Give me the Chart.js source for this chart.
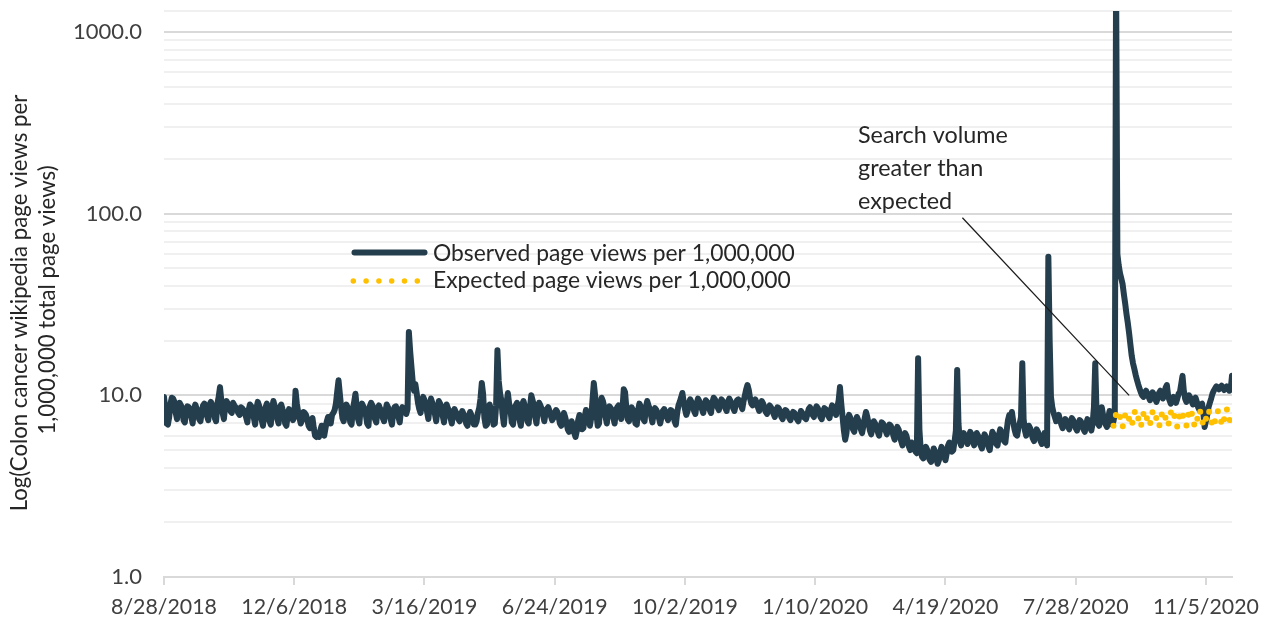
<!DOCTYPE html>
<html>
<head>
<meta charset="utf-8">
<script src="https://cdn.jsdelivr.net/npm/chart.js@4.4.1/dist/chart.umd.min.js"></script>
<style>
html,body{margin:0;padding:0;background:#fff;}
#wrap{width:1272px;height:625px;}
</style>
</head>
<body>
<div id="wrap"><canvas id="chart" width="1272" height="625"></canvas></div>
<script>
/* ---------- DATA ---------- */
// day 0 = 8/28/2018, one value per day
const tickDays = [0, 100, 200, 300, 400, 500, 600, 700, 800];
const tickLabels = ['8/28/2018','12/6/2018','3/16/2019','6/24/2019','10/2/2019','1/10/2020','4/19/2020','7/28/2020','11/5/2020'];
const lastDay = 820;

const yMajor = [1, 10, 100, 1000];
const yMajorLabels = ['1.0', '10.0', '100.0', '1000.0'];
const yMax = 1305;

const observed = [
  9.8, 8.4, 7.0, 6.9, 7.6, 9.0, 9.7, 9.6, 9.2, 8.0, 7.4, 8.6, 9.1, 8.8,
  8.5, 7.3, 7.1, 8.2, 8.7, 8.6, 8.3, 7.6, 7.0, 8.4, 8.9, 8.5, 8.0, 7.4,
  7.2, 8.1, 8.8, 9.0, 8.6, 7.7, 7.3, 8.9, 9.2, 8.8, 8.4, 7.5, 7.2, 9.0,
  9.8, 11.1, 9.4, 8.0, 7.4, 8.8, 9.3, 9.0, 8.9, 8.2, 8.0, 9.1, 8.8, 8.6,
  8.4, 8.0, 7.8, 8.6, 8.5, 8.3, 8.0, 7.6, 7.1, 8.3, 8.9, 8.7, 8.4, 7.5,
  6.9, 8.5, 9.2, 8.8, 8.2, 7.3, 6.8, 8.0, 8.6, 9.0, 8.1, 7.2, 6.9, 8.5,
  9.3, 8.7, 8.3, 7.4, 7.0, 8.6, 8.9, 8.4, 8.0, 7.0, 6.8, 7.8, 8.4, 8.2,
  7.9, 7.3, 7.6, 10.6, 9.0, 8.1, 7.5, 7.0, 7.3, 8.1, 8.0, 7.8, 7.4, 6.8,
  6.6, 7.2, 7.5, 6.6, 6.0, 5.9, 6.1, 5.9, 6.4, 6.8, 6.3, 6.0, 6.6, 7.2,
  7.6, 7.4, 7.0, 7.8, 8.0, 8.3, 9.0, 10.5, 12.1, 10.2, 8.6, 7.5, 7.2, 8.4,
  8.9, 8.6, 8.0, 7.1, 6.9, 8.4, 9.2, 10.2, 8.6, 7.4, 7.0, 8.5, 9.0, 8.7,
  8.4, 7.8, 7.0, 6.8, 8.7, 9.1, 8.8, 8.3, 7.4, 7.1, 8.5, 8.8, 8.4, 8.1,
  7.5, 7.2, 8.2, 8.9, 8.6, 8.2, 7.4, 6.9, 8.0, 8.6, 8.7, 8.3, 7.6, 7.1,
  8.3, 8.6, 8.4, 8.1, 7.9, 8.4, 22.3, 17.5, 14.3, 11.8, 10.6, 11.5, 10.3, 9.1,
  8.4, 8.0, 9.2, 9.8, 9.4, 8.9, 8.1, 7.4, 8.8, 9.6, 9.1, 8.6, 7.9, 7.2,
  8.4, 9.3, 9.0, 8.6, 7.7, 7.1, 8.3, 8.9, 8.5, 8.2, 7.5, 7.0, 8.0, 8.4,
  8.1, 7.9, 7.4, 7.2, 7.8, 8.2, 7.9, 7.6, 7.0, 6.8, 7.6, 8.1, 7.8, 7.3,
  6.9, 6.9, 7.2, 8.0, 8.5, 9.6, 11.7, 10.2, 7.5, 6.8, 6.9, 8.6, 8.9, 8.4,
  7.8, 6.9, 7.0, 8.8, 17.7, 12.0, 10.3, 9.4, 7.8, 6.9, 8.4, 9.0, 10.3, 9.0,
  8.4, 7.1, 6.9, 8.5, 8.8, 9.1, 8.2, 7.3, 6.8, 8.9, 9.3, 8.7, 8.0, 7.2,
  7.0, 8.6, 10.0, 9.4, 8.8, 7.6, 7.0, 8.4, 9.1, 8.8, 8.4, 7.8, 7.2, 8.0,
  8.4, 8.6, 8.2, 7.7, 7.3, 7.5, 8.0, 8.3, 8.1, 7.6, 7.0, 6.8, 7.5, 8.0,
  7.6, 7.1, 6.5, 6.3, 6.6, 7.2, 6.8, 6.2, 5.9, 6.4, 7.3, 7.8, 7.2, 6.5,
  6.6, 7.6, 8.3, 8.0, 7.4, 6.8, 7.5, 9.4, 11.7, 10.0, 7.9, 6.8, 7.0, 8.8,
  9.7, 9.3, 8.6, 7.6, 7.0, 8.2, 8.7, 8.5, 8.3, 7.5, 7.0, 8.3, 8.6, 8.8,
  8.2, 7.4, 8.4, 10.8, 10.4, 8.5, 7.4, 7.2, 8.2, 8.6, 8.3, 7.8, 7.0, 6.9,
  8.3, 9.0, 8.7, 8.1, 7.4, 7.2, 8.6, 9.3, 8.8, 8.4, 7.7, 7.1, 8.0, 8.5,
  8.3, 8.0, 7.5, 7.0, 7.6, 8.2, 8.4, 8.1, 7.6, 7.3, 7.9, 8.3, 8.2, 7.9,
  7.2, 6.9, 8.0, 8.8, 9.2, 9.7, 10.3, 9.2, 8.4, 7.8, 8.2, 9.1, 9.5, 9.2,
  8.7, 8.2, 7.9, 9.0, 9.6, 9.3, 8.9, 8.4, 8.0, 8.8, 9.4, 9.2, 9.0, 8.3,
  8.0, 9.1, 9.7, 9.5, 9.1, 8.6, 8.3, 9.0, 9.5, 9.3, 9.0, 8.5, 8.2, 9.2,
  9.6, 9.3, 9.0, 8.5, 8.2, 8.9, 9.4, 9.5, 9.2, 8.8, 8.4, 9.3, 10.0, 10.8,
  11.4, 10.7, 9.6, 9.0, 8.8, 9.2, 9.5, 9.1, 8.6, 8.2, 8.7, 9.3, 9.0, 8.5,
  8.1, 7.9, 8.5, 8.8, 8.6, 8.3, 7.9, 7.6, 8.2, 8.6, 8.5, 8.1, 7.6, 7.4,
  8.0, 8.3, 8.2, 7.9, 7.5, 7.3, 7.8, 8.1, 8.0, 7.7, 7.4, 7.2, 7.7, 8.2,
  8.0, 7.8, 7.5, 7.4, 7.9, 8.4, 8.6, 8.2, 7.8, 7.6, 8.3, 8.7, 8.5, 8.1,
  7.6, 7.4, 8.1, 8.5, 8.4, 8.2, 7.7, 7.5, 8.3, 8.8, 8.6, 8.2, 7.8, 8.6,
  9.4, 11.1, 9.0, 7.6, 6.4, 5.7, 6.2, 7.4, 7.8, 7.5, 7.0, 6.5, 6.3, 7.2,
  7.6, 7.3, 6.9, 6.5, 6.2, 6.8, 7.5, 8.1, 7.6, 7.0, 6.4, 6.1, 6.7, 7.2,
  7.0, 6.7, 6.3, 6.0, 6.6, 7.1, 7.0, 6.8, 6.4, 6.1, 6.5, 6.9, 6.8, 6.5,
  6.0, 5.7, 6.3, 6.7, 6.5, 6.1, 5.6, 5.3, 5.8, 6.2, 6.0, 5.6, 5.2, 5.0,
  5.5, 5.4, 5.2, 4.9, 4.8, 16.0, 6.5, 5.0, 4.6, 4.5, 4.9, 5.2, 5.0, 4.6,
  4.4, 4.3, 4.7, 5.1, 4.9, 4.5, 4.2, 4.4, 4.9, 5.2, 5.0, 4.6, 4.4, 4.8,
  5.3, 5.5, 5.2, 4.9, 5.0, 5.6, 6.4, 13.8, 7.0, 5.6, 5.3, 5.8, 6.2, 6.0,
  5.6, 5.4, 5.9, 6.3, 6.1, 5.7, 5.3, 5.6, 6.2, 6.0, 5.8, 5.3, 5.1, 5.7,
  6.1, 5.9, 5.6, 5.2, 5.0, 5.7, 6.3, 6.1, 5.8, 5.4, 5.3, 6.0, 6.5, 6.3,
  6.0, 5.6, 5.5, 6.4, 7.3, 7.8, 7.5, 8.1, 7.2, 6.5, 6.1, 6.0, 6.6, 7.0,
  7.6, 15.0, 7.4, 6.4, 6.0, 6.3, 6.8, 6.6, 6.2, 5.8, 5.6, 6.1, 6.5, 6.3,
  5.9, 5.6, 5.4, 5.8, 6.2, 5.7, 5.3, 58.0, 20.0, 9.8, 8.6, 8.0, 7.6, 7.2,
  7.5, 7.8, 7.3, 6.9, 6.6, 7.0, 7.4, 7.2, 6.8, 6.5, 7.1, 7.5, 7.3, 7.0,
  6.6, 6.4, 6.9, 7.3, 7.2, 6.8, 6.5, 6.3, 6.9, 7.4, 7.1, 6.7, 6.4, 7.0,
  8.6, 15.0, 8.0, 7.0, 6.8, 7.4, 8.6, 7.8, 7.3, 6.9, 6.7, 7.5, 8.2, 7.4,
  6.9, 7.2, 8.0, 2000, 60, 52, 47, 44, 41, 36, 32, 28, 25, 22,
  19, 16.5, 15.0, 14.0, 13.0, 12.2, 11.5, 10.9, 10.4, 10.0, 9.8, 10.3, 10.6, 10.2,
  9.8, 9.4, 9.9, 10.4, 10.1, 9.6, 9.2, 9.7, 10.3, 10.6, 10.2, 9.6, 10.2, 11.0,
  11.4, 9.9, 9.4, 9.0, 9.5, 9.8, 9.4, 9.1, 9.6, 10.2, 10.4, 11.5, 12.8, 10.6,
  9.6, 9.2, 9.6, 10.0, 9.7, 9.3, 8.9, 9.4, 9.7, 9.2, 8.6, 8.3, 8.9, 9.0,
  8.0, 6.7, 7.2, 7.8, 8.6, 9.1, 9.6, 10.2, 10.6, 10.9, 11.2, 11.0, 10.8, 11.1,
  11.3, 11.0, 10.7, 10.9, 11.2, 11.0, 10.6, 10.8, 12.8
];

const expectedStartDay = 729;
const expected = [
  6.8, 7.3, 7.9, 8.2, 8.0, 7.6, 7.0,
  6.7, 7.2, 7.8, 8.1, 7.9, 7.4, 6.9,
  6.8, 7.4, 8.0, 8.3, 8.0, 7.5, 7.0,
  6.7, 7.3, 7.9, 8.2, 7.8, 7.3, 6.8,
  6.9, 7.5, 8.1, 8.3, 8.0, 7.4, 6.9,
  6.7, 7.2, 7.8, 8.2, 7.9, 7.5, 7.0,
  6.8, 7.4, 8.0, 8.4, 8.1, 7.6, 7.0,
  6.7, 7.3, 7.9, 8.2, 7.9, 7.4, 6.9,
  6.8, 7.5, 8.1, 8.4, 8.0, 7.5, 6.9,
  6.7, 7.2, 7.8, 8.3, 8.0, 7.4, 6.8,
  6.9, 7.4, 8.0, 8.3, 7.9, 7.3, 6.8,
  6.7, 7.3, 7.9, 8.2, 8.0, 7.5, 7.0,
  6.8, 7.4, 8.1, 8.4, 8.0, 7.4, 6.9,
  7.2
];

const yTitle = ['Log(Colon cancer wikipedia page views per', '1,000,000 total page views)'];
const noteLines = ['Search volume', 'greater than', 'expected'];
const legendLabels = ['Observed page views per 1,000,000', 'Expected page views per 1,000,000'];

/* ---------- HELPERS ---------- */
const OBS_COLOR = '#243E4D';
const EXP_COLOR = '#FFC000';
const FAMILY = 'Lato, "Open Sans", sans-serif';

const mctx = document.createElement('canvas').getContext('2d');
function fitSize(text, target){
  mctx.font = `100px ${FAMILY}`;
  return 100 * target / mctx.measureText(text).width;
}
const xTickSize = fitSize('8/28/2018', 106);
const yTickSize = fitSize('1000.0', 69);
const legendSize = fitSize(legendLabels[0], 362);
const titleSize = fitSize(yTitle[0], 417);
const noteSize = fitSize(noteLines[0], 150);

const yGrid = [];
yMajor.forEach(p => {
  for(let k=1;k<=9;k++){ if(p*k<=yMax && !(p===1000 && k>1)) yGrid.push(p*k); }
});
yGrid.push(yMax);

const obsPoints = observed.map((v,i)=>({x:i, y:v}));
const expPoints = expected.map((v,i)=>({x:expectedStartDay+i, y:v}));

/* ---------- OVERLAY: title, legend, note ---------- */
const overlay = {
  id:'overlay',
  afterDraw(chart){
    const {ctx, scales:{x, y}} = chart;

    // y axis title
    ctx.save();
    ctx.fillStyle = '#262626';
    ctx.font = `${titleSize}px ${FAMILY}`;
    ctx.textAlign = 'center';
    ctx.textBaseline = 'alphabetic';
    ctx.translate(0, 303);
    ctx.rotate(-Math.PI/2);
    ctx.fillText(yTitle[0], 0, 26.5);
    ctx.fillText(yTitle[1], 3, 55);
    ctx.restore();

    // legend
    ctx.save();
    ctx.lineCap = 'round';
    ctx.lineWidth = 6;
    ctx.strokeStyle = OBS_COLOR;
    ctx.beginPath(); ctx.moveTo(354.5, 252.5); ctx.lineTo(424.5, 252.5); ctx.stroke();
    ctx.strokeStyle = EXP_COLOR;
    ctx.lineWidth = 5.5;
    ctx.setLineDash([0, 12.8]);
    ctx.beginPath(); ctx.moveTo(353.3, 281); ctx.lineTo(420, 281); ctx.stroke();
    ctx.setLineDash([]);
    ctx.fillStyle = '#262626';
    ctx.font = `${legendSize}px ${FAMILY}`;
    ctx.textBaseline = 'alphabetic';
    ctx.fillText(legendLabels[0], 433, 260.5);
    ctx.fillText(legendLabels[1], 433, 287.5);
    ctx.restore();

    // note + leader line
    ctx.save();
    ctx.fillStyle = '#262626';
    ctx.font = `${noteSize}px ${FAMILY}`;
    ctx.textBaseline = 'alphabetic';
    noteLines.forEach((t,i)=>ctx.fillText(t, 858, 143.3 + i*32.6));
    ctx.strokeStyle = '#1a1a1a';
    ctx.lineWidth = 1.2;
    ctx.beginPath();
    ctx.moveTo(x.getPixelForValue(613), y.getPixelForValue(95));
    ctx.lineTo(x.getPixelForValue(741), y.getPixelForValue(10));
    ctx.stroke();
    ctx.restore();
  }
};

/* ---------- CHART ---------- */
new Chart(document.getElementById('chart').getContext('2d'), {
  type:'line',
  data:{
    datasets:[
      {label:legendLabels[0], data:obsPoints, borderColor:OBS_COLOR, borderWidth:6,
       pointRadius:0, tension:0, borderJoinStyle:'round', borderCapStyle:'round', fill:false, order:2},
      {label:legendLabels[1], data:expPoints, borderColor:EXP_COLOR, borderWidth:6,
       borderDash:[0, 11], borderCapStyle:'round', borderJoinStyle:'round',
       pointRadius:0, tension:0, fill:false, order:1}
    ]
  },
  options:{
    responsive:false,
    animation:false,
    devicePixelRatio:1,
    layout:{padding:{top:11, right:40, left:0, bottom:0}},
    plugins:{legend:{display:false}, tooltip:{enabled:false}},
    scales:{
      x:{
        type:'linear', min:0, max:lastDay,
        afterBuildTicks: s => { s.ticks = tickDays.map(v=>({value:v})); },
        afterFit: s => { s.height = 48; s.paddingLeft = 0; s.paddingRight = 0; },
        grid:{drawOnChartArea:false, drawTicks:true, tickLength:8, color:'#D9D9D9', lineWidth:2},
        border:{display:true, color:'#D9D9D9', width:2},
        ticks:{
          autoSkip:false, maxRotation:0, padding:9,
          color:'#404040', font:{family:FAMILY, size:xTickSize},
          callback: v => tickLabels[tickDays.indexOf(v)] ?? ''
        }
      },
      y:{
        type:'logarithmic', min:1, max:yMax,
        afterBuildTicks: s => { s.ticks = yGrid.map(v=>({value:v})); },
        afterFit: s => { s.width = 164; s.paddingTop = 0; s.paddingBottom = 0; },
        grid:{
          drawTicks:false,
          color: c => yMajor.includes(c.tick.value) ? '#D9D9D9' : '#F0F0F0',
          lineWidth:2
        },
        border:{display:false},
        ticks:{
          autoSkip:false, padding:22,
          color:'#404040', font:{family:FAMILY, size:yTickSize},
          callback: v => { const i = yMajor.indexOf(v); return i<0 ? '' : yMajorLabels[i]; }
        }
      }
    }
  },
  plugins:[overlay]
});
</script>
</body>
</html>
